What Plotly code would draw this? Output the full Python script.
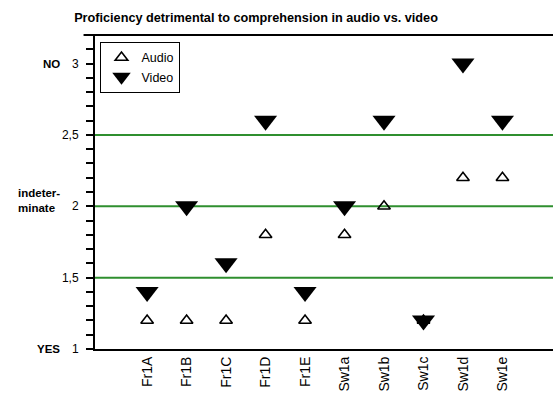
import plotly.graph_objects as go

# Speaker samples and mean ratings (1 = YES, 2 = indeterminate, 3 = NO)
samples = ["Fr1A", "Fr1B", "Fr1C", "Fr1D", "Fr1E",
           "Sw1a", "Sw1b", "Sw1c", "Sw1d", "Sw1e"]
audio = [1.2, 1.2, 1.2, 1.8, 1.2, 1.8, 2.0, 1.2, 2.2, 2.2]
video = [1.4, 2.0, 1.6, 2.6, 1.4, 2.0, 2.6, 1.2, 3.0, 2.6]

# Y axis ticks: a tick every 0.1, labels at the half steps
y_tickvals = [round(1 + 0.1 * i, 1) for i in range(23)]
y_labels = {1.0: "1", 1.5: "1,5", 2.0: "2", 2.5: "2,5", 3.0: "3"}
y_ticktext = [y_labels.get(v, "") for v in y_tickvals]

# Verbal anchors for the rating scale
scale_names = {3.0: "NO", 2.0: "indeter-<br>minate", 1.0: "YES"}

# Reference levels drawn as green rules
threshold_levels = [1.5, 2.0, 2.5]

x_idx = list(range(len(samples)))
FONT = "Liberation Sans, Arial"

fig = go.Figure()

fig.add_trace(go.Scatter(
    x=x_idx, y=audio, mode="markers", name="Audio",
    marker=dict(symbol="triangle-up-open", size=11, color="black",
                line=dict(width=1.6)),
))
fig.add_trace(go.Scatter(
    x=x_idx, y=video, mode="markers", name="Video",
    marker=dict(symbol="triangle-down", size=20, color="black",
                line=dict(width=0)),
))

for lvl in threshold_levels:
    fig.add_shape(type="line", xref="paper", x0=0, x1=1, yref="y",
                  y0=lvl, y1=lvl, line=dict(color="#2f8f2f", width=2),
                  layer="below")

# Top border of the plot frame
fig.add_shape(type="line", xref="paper", x0=-0.025, x1=1, yref="paper",
              y0=1, y1=1, line=dict(color="black", width=2))

for v, txt in scale_names.items():
    fig.add_annotation(x=-0.072, xref="paper", y=v, yref="y",
                       text="<b>%s</b>" % txt,
                       showarrow=False, xanchor="right", align="left",
                       font=dict(size=11.5, color="black", family=FONT),
                       yshift=0 if v != 2.0 else 6)

fig.update_layout(
    width=553, height=407,
    margin=dict(l=95, r=0, t=35, b=58),
    paper_bgcolor="white", plot_bgcolor="white",
    font=dict(family=FONT, color="black", size=12),
    title=dict(text="<b>Proficiency detrimental to comprehension in audio vs. video</b>",
               x=0.463, xanchor="center", y=0.958, yanchor="middle",
               font=dict(size=12.7)),
    showlegend=True,
    legend=dict(x=0.012, y=0.978, xanchor="left", yanchor="top",
                bordercolor="black", borderwidth=1, bgcolor="white",
                traceorder="normal", font=dict(size=12.5),
                itemsizing="trace", itemwidth=30, tracegroupgap=0),
    xaxis=dict(
        range=[-1.32, 10.28], tickvals=x_idx, ticktext=samples,
        tickangle=-90, showgrid=False, zeroline=False,
        showline=True, linecolor="black", linewidth=2, ticks="",
        tickfont=dict(size=14),
    ),
    yaxis=dict(
        range=[1, 3.2], tickvals=y_tickvals, ticktext=y_ticktext,
        showgrid=False, zeroline=False, showline=True, linecolor="black",
        linewidth=2, ticks="outside", ticklen=7, tickwidth=1.5,
        tickcolor="black", tickfont=dict(size=12), ticklabelstandoff=5,
    ),
)

fig.write_html("out.html")
